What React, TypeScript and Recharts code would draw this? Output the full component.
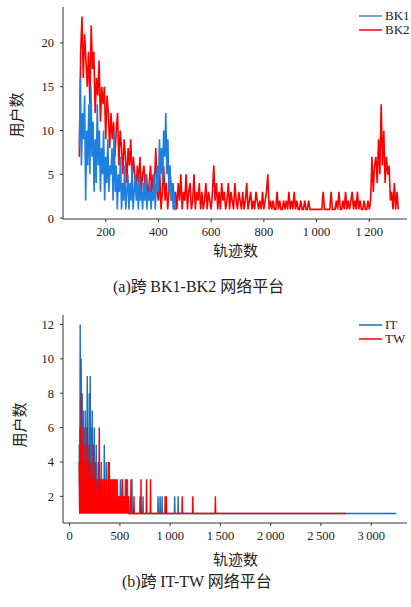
import React from 'react';
import { LineChart, Line, XAxis, YAxis } from 'recharts';

// ---------- Chart (a): BK1 / BK2 ----------
const BK2_START = 100;
const BK2_STEP = 5;
const bk2Values = [
  7, 19, 23, 16, 21, 18, 15, 19, 13, 22,
  17, 19, 12, 16, 14, 18, 11, 15, 13, 15,
  9, 14, 12, 8, 12, 9, 11, 7, 10, 12,
  6, 10, 8, 5, 9, 7, 4, 8, 6, 9,
  4, 7, 5, 3, 6, 4, 7, 3, 5, 6,
  3, 5, 2, 4, 6, 3, 5, 4, 8, 3,
  2, 5, 1, 3, 6, 2, 4, 1, 3, 5,
  2, 4, 1, 3, 1, 4, 2, 5, 1, 3,
  2, 5, 1, 3, 4, 1, 2, 5, 1, 3,
  2, 4, 1, 3, 1, 2, 4, 1, 3, 2,
  1, 3, 6, 2, 4, 1, 3, 1, 4, 2,
  3, 1, 2, 4, 1, 3, 2, 1, 4, 2,
  1, 3, 2, 1, 3, 1, 2, 4, 1, 2,
  3, 1, 2, 1, 3, 2, 1, 2, 1, 3,
  1, 2, 3, 5, 1, 2, 1, 2, 1, 1,
  3, 1, 2, 1, 1, 2, 1, 2, 1, 3,
  1, 2, 1, 3, 1, 2, 1, 1, 2, 1,
  1, 2, 1, 1, 2, 1, 1, 1, 1, 1,
  1, 1, 1, 1, 1, 3, 1, 1, 1, 1,
  1, 3, 1, 1, 1, 2, 1, 3, 1, 1,
  2, 1, 3, 1, 2, 1, 2, 3, 1, 2,
  1, 3, 1, 2, 1, 1, 2, 1, 1, 2,
  1, 2, 7, 3, 6, 7, 4, 9, 5, 13,
  6, 10, 4, 7, 5, 6, 2, 3, 1, 4,
  1, 3, 1,
];

const BK1_START = 100;
const BK1_STEP = 4;
const bk1Values = [
  8, 16, 6, 12, 9, 14, 2, 10, 6, 13,
  5, 15, 7, 11, 3, 9, 4, 13, 6, 10,
  3, 8, 5, 10, 2, 7, 4, 9, 3, 6,
  5, 8, 2, 10, 3, 6, 1, 5, 3, 7,
  1, 4, 2, 6, 1, 3, 5, 1, 4, 2,
  6, 1, 3, 5, 2, 4, 1, 5, 2, 3,
  1, 4, 2, 5, 1, 3, 2, 4, 1, 3,
  2, 5, 1, 4, 6, 3, 9, 5, 8, 4,
  10, 7, 12, 5, 9, 3, 6, 2, 4, 1,
  3, 1, 1,
];

const topXTicks = [200, 400, 600, 800, 1000, 1200];
const topYTicks = [0, 5, 10, 15, 20];

// ---------- Chart (b): IT / TW ----------
const IT_START = 95;
const IT_STEP = 5;
const itValues = [
  5, 1, 12, 1, 10, 1, 8, 1, 7, 1,
  6, 1, 7, 1, 6, 1, 9, 1, 5, 1,
  8, 1, 9, 1, 6, 1, 7, 1, 5, 1,
  6, 1, 4, 1, 5, 1, 3, 1, 4, 1,
  3, 1, 3, 1, 4, 1, 2, 1, 3, 1,
  5, 1, 3, 1, 4, 1, 2, 1, 3, 1,
  3, 1, 2, 1, 3, 1, 2, 1, 3, 1,
  2, 1, 3, 1, 2, 1, 3, 1, 2, 1,
  2, 1, 3, 1, 2, 1, 3, 1, 2, 1,
  2, 1, 3, 1, 2, 1, 3, 1, 2, 1,
  1,
];
const itSpikeX = [620, 700, 730, 880, 900, 920, 1045, 1080];
const itSpikeH = [3, 2, 2, 2, 2, 2, 2, 2];
const IT_END = 3250;

const TW_START = 95;
const TW_STEP = 5;
const twValues = [
  4, 1, 6, 1, 8, 1, 5, 1, 6, 1,
  4, 1, 5, 1, 3, 1, 6, 1, 4, 1,
  5, 1, 3, 1, 4, 1, 3, 1, 5, 1,
  3, 1, 4, 1, 2, 1, 3, 1, 2, 1,
  6, 1, 3, 1, 2, 1, 3, 1, 2, 1,
  3, 1, 2, 1, 3, 1, 2, 1, 4, 1,
  4, 1, 3, 1, 2, 1, 3, 1, 2, 1,
  3, 1, 2, 1, 3, 1, 2, 1, 2, 1,
  2, 1, 2, 1, 2, 1, 3, 1, 2, 1,
  2, 1, 2, 1, 3, 1, 2, 1, 2, 1,
  1,
];
const twSpikeX = [610, 640, 710, 765, 805, 950, 962, 1120, 1225, 1450];
const twSpikeH = [3, 2, 3, 3, 3, 2, 2, 2, 2, 2];
const TW_END = 2750;

const botXTicks = [0, 500, 1000, 1500, 2000, 2500, 3000];
const botYTicks = [2, 4, 6, 8, 10, 12];

// ---------- helpers ----------
const dense = (start: number, step: number, vals: number[]) =>
  vals.map((y, i) => ({ x: start + i * step, y }));
const withSpikes = (
  base: { x: number; y: number }[],
  xs: number[],
  hs: number[],
  endX: number
) => {
  const out = [...base];
  xs.forEach((x, i) => {
    out.push({ x: x - 3, y: 1 }, { x, y: hs[i] }, { x: x + 3, y: 1 });
  });
  out.push({ x: endX, y: 1 });
  return out;
};

const bk2Data = dense(BK2_START, BK2_STEP, bk2Values);
const bk1Data = dense(BK1_START, BK1_STEP, bk1Values);
const itData = withSpikes(dense(IT_START, IT_STEP, itValues), itSpikeX, itSpikeH, IT_END);
const twData = withSpikes(dense(TW_START, TW_STEP, twValues), twSpikeX, twSpikeH, TW_END);

const fmt = (v: number) =>
  v >= 1000 ? `${Math.floor(v / 1000)}\u2009${String(v % 1000).padStart(3, '0')}` : String(v);

const SERIF = "'Liberation Serif', 'DejaVu Serif', serif";
const CJK = "'Noto Sans CJK SC', sans-serif";
const AXIS = '#333';
const BLUE1 = '#1f7fe0';
const BLUE2 = '#1f6db8';
const RED = '#ff0000';

const tickStyle = { fontFamily: SERIF, fontSize: 12.5, fill: '#222' };

function LegendBox({ top, items }: { top: number; items: { name: string; color: string }[] }) {
  return (
    <div style={{ position: 'absolute', left: 359, top, background: '#fff' }}>
      {items.map((it) => (
        <div key={it.name} style={{ display: 'flex', alignItems: 'center', height: 14 }}>
          <svg width={23} height={4} style={{ marginRight: 3 }}>
            <line x1={0} x2={23} y1={2} y2={2} stroke={it.color} strokeWidth={1.5} />
          </svg>
          <span style={{ fontFamily: SERIF, fontSize: 13, color: '#222', lineHeight: '14px' }}>{it.name}</span>
        </div>
      ))}
    </div>
  );
}

const absText = (left: number, top: number, extra: React.CSSProperties = {}): React.CSSProperties => ({
  position: 'absolute',
  left,
  top,
  whiteSpace: 'nowrap',
  color: '#222',
  ...extra,
});

const yLabelStyle = (cx: number, cy: number): React.CSSProperties => ({
  position: 'absolute',
  left: cx,
  top: cy,
  transform: 'translate(-50%, -50%) rotate(-90deg)',
  fontFamily: CJK,
  fontSize: 15,
  lineHeight: '15px',
  whiteSpace: 'nowrap',
  color: '#222',
});

export default function App() {
  return (
    <div style={{ position: 'absolute', left: 0, top: 0, width: 411, height: 607, background: '#fff', overflow: 'hidden' }}>
      {/* Chart (a) */}
      <div style={{ position: 'absolute', left: 0, top: 0 }}>
        <LineChart width={411} height={250} margin={{ top: 7, right: 4, bottom: 6, left: 23 }}>
          <XAxis
            type="number"
            dataKey="x"
            domain={[38, 1343]}
            allowDataOverflow
            ticks={topXTicks}
            tickFormatter={fmt}
            tick={tickStyle}
            tickSize={3}
            tickMargin={5}
            height={25}
            stroke={AXIS}
          />
          <YAxis
            type="number"
            dataKey="y"
            domain={[-0.1, 24.1]}
            allowDataOverflow
            ticks={topYTicks}
            tick={tickStyle}
            tickSize={3}
            tickMargin={6}
            width={40}
            stroke={AXIS}
          />
          <Line data={bk2Data} dataKey="y" name="BK2" stroke={RED} strokeWidth={1.6} dot={false} isAnimationActive={false} />
          <Line data={bk1Data} dataKey="y" name="BK1" stroke={BLUE1} strokeWidth={1.6} dot={false} isAnimationActive={false} />
        </LineChart>
      </div>
      <LegendBox top={9} items={[{ name: 'BK1', color: '#3a86c8' }, { name: 'BK2', color: RED }]} />
      <div style={yLabelStyle(15, 115)}>用户数</div>
      <div style={absText(213, 242, { fontFamily: CJK, fontSize: 15, lineHeight: '15px' })}>轨迹数</div>
      <div style={absText(113, 277, { fontSize: 16, lineHeight: '16px' })}>
        <span style={{ fontFamily: SERIF }}>(a)</span>
        <span style={{ fontFamily: CJK }}>跨 </span>
        <span style={{ fontFamily: SERIF }}>BK1-BK2 </span>
        <span style={{ fontFamily: CJK }}>网络平台</span>
      </div>

      {/* Chart (b) */}
      <div style={{ position: 'absolute', left: 0, top: 300 }}>
        <LineChart width={411} height={250} margin={{ top: 15, right: 4, bottom: 2, left: 23 }}>
          <XAxis
            type="number"
            dataKey="x"
            domain={[-66, 3356]}
            allowDataOverflow
            ticks={botXTicks}
            tickFormatter={fmt}
            tick={tickStyle}
            tickSize={3}
            tickMargin={5}
            height={25}
            stroke={AXIS}
          />
          <YAxis
            type="number"
            dataKey="y"
            domain={[0.45, 12.55]}
            allowDataOverflow
            ticks={botYTicks}
            tick={tickStyle}
            tickSize={3}
            tickMargin={6}
            width={40}
            stroke={AXIS}
          />
          <Line data={itData} dataKey="y" name="IT" stroke={BLUE2} strokeWidth={1.4} dot={false} isAnimationActive={false} />
          <Line data={twData} dataKey="y" name="TW" stroke={RED} strokeWidth={1.4} dot={false} isAnimationActive={false} />
        </LineChart>
      </div>
      <LegendBox top={318} items={[{ name: 'IT', color: BLUE2 }, { name: 'TW', color: RED }]} />
      <div style={yLabelStyle(18, 425)}>用户数</div>
      <div style={absText(213, 551, { fontFamily: CJK, fontSize: 15, lineHeight: '15px' })}>轨迹数</div>
      <div style={absText(122, 572, { fontSize: 16, lineHeight: '16px' })}>
        <span style={{ fontFamily: SERIF }}>(b)</span>
        <span style={{ fontFamily: CJK }}>跨 </span>
        <span style={{ fontFamily: SERIF }}>IT-TW </span>
        <span style={{ fontFamily: CJK }}>网络平台</span>
      </div>
    </div>
  );
}
